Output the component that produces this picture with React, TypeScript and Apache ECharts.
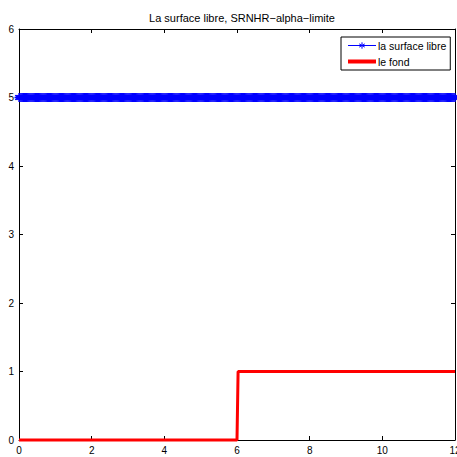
import React, { useEffect, useRef } from "react";
import * as echarts from "echarts";

const TITLE = "La surface libre, SRNHR\u2212alpha\u2212limite";
const SERIES_NAMES = ["la surface libre", "le fond"];
const X_MIN = 0;
const X_MAX = 12;
const Y_MIN = 0;
const Y_MAX = 6;
// mesh of the simulation: number of cells over [0, 12]
const MESH_CELLS = 400;
// free surface level (constant)
const SURFACE_LEVEL = 5;
// bottom (le fond): step at x = 6
const fondX = [0, 6, 6.03, 12];
const fondY = [0, 0, 1, 1];

const FONT = "'Liberation Sans', Arial, Helvetica, sans-serif";
const ASTERISK =
  "path://M0,-10L0,10M-8.66,-5L8.66,5M-8.66,5L8.66,-5M-10,0L10,0";

export default function App() {
  const ref = useRef<HTMLDivElement>(null);
  useEffect(() => {
    if (!ref.current) return;
    const chart = echarts.init(ref.current, undefined, { renderer: "svg" });
    const meshX: number[] = [];
    for (let i = 0; i <= MESH_CELLS; i++) meshX.push((X_MAX * i) / MESH_CELLS);
    const surface = meshX.map((x) => [x, SURFACE_LEVEL]);
    const fond = fondX.map((x, i) => [x, fondY[i]]);

    const axisCommon = {
      type: "value" as const,
      axisLine: { show: true, onZero: false, lineStyle: { color: "#000", width: 1 } },
      axisTick: { show: true, inside: true, length: 4, lineStyle: { color: "#000" } },
      splitLine: { show: false },
    };
    chart.setOption({
      animation: false,
      backgroundColor: "#fff",
      title: {
        text: TITLE,
        left: 237,
        top: 7,
        textAlign: "center",
        textStyle: { fontFamily: FONT, fontSize: 11, fontWeight: "normal", color: "#000" },
      },
      grid: { left: 19, right: 2, top: 29, bottom: 17, outerBoundsMode: "none", containLabel: false },
      legend: {
        orient: "vertical",
        left: 341,
        top: 37,
        padding: [3, 4, 3, 5],
        itemGap: 5,
        itemWidth: 28,
        itemHeight: 8,
        backgroundColor: "#fff",
        borderColor: "#000",
        borderWidth: 1,
        borderRadius: 0,
        textStyle: { fontFamily: FONT, fontSize: 10.5, color: "#000", padding: [0, 0, 0, -3] },
        data: [
          {
            name: SERIES_NAMES[0],
            lineStyle: { width: 1, color: "#0000ff" },
            itemStyle: { color: "#0000ff", borderColor: "#0000ff", borderWidth: 1 },
          },
          {
            name: SERIES_NAMES[1],
            lineStyle: { width: 4, color: "#ff0000" },
            itemStyle: { opacity: 0 },
          },
        ],
      },
      xAxis: [
        {
          ...axisCommon,
          min: X_MIN,
          max: X_MAX,
          interval: 2,
          position: "bottom",
          axisLabel: { color: "#000", fontFamily: FONT, fontSize: 10, margin: 5 },
        },
        {
          ...axisCommon,
          min: X_MIN,
          max: X_MAX,
          interval: 2,
          position: "top",
          axisLabel: { show: false },
        },
      ],
      yAxis: [
        {
          ...axisCommon,
          min: Y_MIN,
          max: Y_MAX,
          interval: 1,
          position: "left",
          axisLabel: { color: "#000", fontFamily: FONT, fontSize: 10, margin: 5 },
        },
        {
          ...axisCommon,
          min: Y_MIN,
          max: Y_MAX,
          interval: 1,
          position: "right",
          axisLabel: { show: false },
        },
      ],
      series: [
        {
          name: SERIES_NAMES[0],
          type: "line",
          data: surface,
          symbol: ASTERISK,
          symbolSize: 9,
          showSymbol: true,
          showAllSymbol: true,
          clip: false,
          lineStyle: { color: "#0000ff", width: 1 },
          itemStyle: { color: "#0000ff", borderColor: "#0000ff", borderWidth: 1.3 },
          z: 3,
        },
        {
          name: SERIES_NAMES[1],
          type: "line",
          data: fond,
          symbol: "none",
          clip: false,
          lineStyle: { color: "#ff0000", width: 3 },
          itemStyle: { color: "#ff0000" },
          z: 4,
        },
      ],
    });
    return () => chart.dispose();
  }, []);
  return <div ref={ref} style={{ width: 457, height: 457, position: "absolute", left: 0, top: 0 }} />;
}
